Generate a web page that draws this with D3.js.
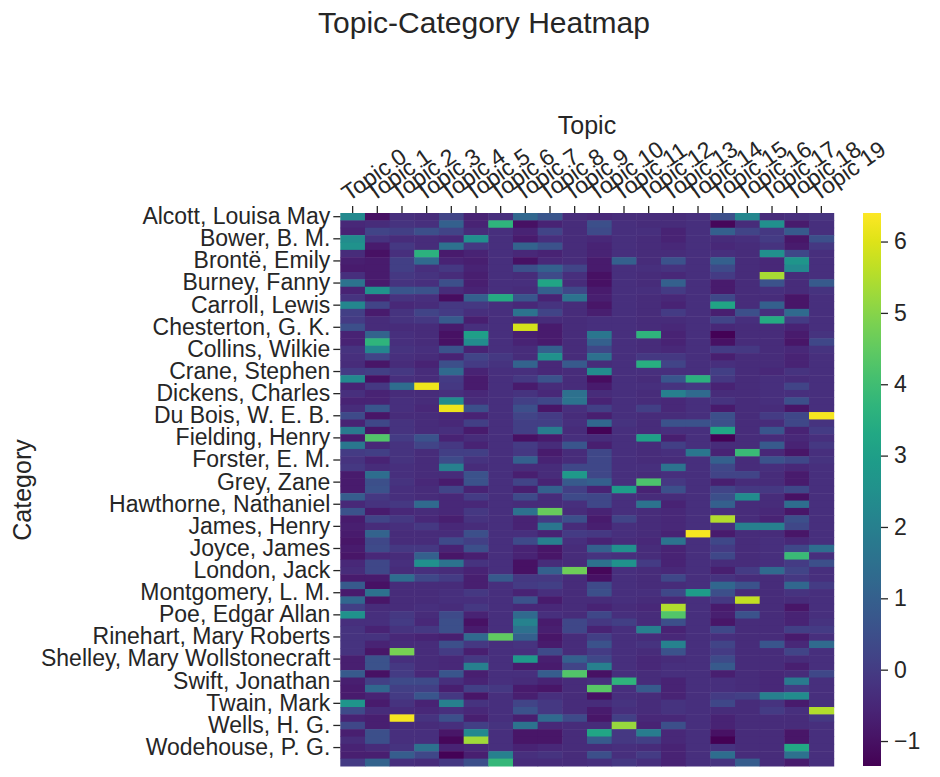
<!DOCTYPE html>
<html><head><meta charset="utf-8">
<script src="https://cdn.jsdelivr.net/npm/d3@7"></script>
<style>body{margin:0;background:#fff}text{font-family:"Liberation Sans",Arial,sans-serif;fill:#262626}</style>
</head><body><svg id="c" width="940" height="777"></svg>
<script>
const topics = d3.range(20).map(i => "Topic " + i);
const categories = [
"Alcott, Louisa May","Alger, Horatio","Austen, Jane",
"Bower, B. M.","Braddon, M. E.","Brontë, Charlotte",
"Brontë, Emily","Buchan, John","Burnett, Frances Hodgson",
"Burney, Fanny","Burroughs, Edgar Rice","Butler, Samuel",
"Carroll, Lewis","Cather, Willa","Chambers, Robert W.",
"Chesterton, G. K.","Childers, Erskine","Christie, Agatha",
"Collins, Wilkie","Conrad, Joseph","Cooper, James Fenimore",
"Crane, Stephen","Curwood, James Oliver","Defoe, Daniel",
"Dickens, Charles","Dostoyevsky, Fyodor","Doyle, Arthur Conan",
"Du Bois, W. E. B.","Eliot, George","Emerson, Ralph Waldo",
"Fielding, Henry","Fitzgerald, F. Scott","Ford, Ford Madox",
"Forster, E. M.","Gaskell, Elizabeth","Gissing, George",
"Grey, Zane","Haggard, H. Rider","Hardy, Thomas",
"Hawthorne, Nathaniel","Henty, G. A.","Irving, Washington",
"James, Henry","Jerome, Jerome K.","Jewett, Sarah Orne",
"Joyce, James","Kipling, Rudyard","Lawrence, D. H.",
"London, Jack","MacDonald, George","Melville, Herman",
"Montgomery, L. M.","Nesbit, E.","Orczy, Emmuska",
"Poe, Edgar Allan","Porter, Eleanor H.","Potter, Beatrix",
"Rinehart, Mary Roberts","Sabatini, Rafael","Scott, Walter",
"Shelley, Mary Wollstonecraft","Sinclair, Upton","Stevenson, Robert Louis",
"Swift, Jonathan","Tarkington, Booth","Trollope, Anthony",
"Twain, Mark","Verne, Jules","Wallace, Edgar",
"Wells, H. G.","Wharton, Edith","Wilde, Oscar",
"Wodehouse, P. G.","Woolf, Virginia","Yonge, Charlotte M."];
const values = [
[2.3,-1.0,-0.3,-0.4,0.2,-0.6,-0.3,1.2,0.7,-0.4, -0.5,-0.4,-0.4,-0.4,-0.3,0.5,2.2,-0.4,-0.3,-0.2],
[-0.5,-0.4,-0.2,-0.3,1.0,-0.6,3.7,-1.0,-0.6,-0.4, 0.5,-0.3,-0.4,-0.4,-0.3,-1.2,-0.4,2.5,-0.8,-0.3],
[-0.6,0.2,0.1,0.5,0.2,-0.4,-0.3,-0.6,0.2,-0.4, 0.4,-0.3,-0.3,-0.6,-0.3,1.0,0.2,-0.1,0.8,-0.3],
[2.4,-0.2,-0.4,-0.4,-0.5,2.5,-0.3,-0.8,-0.3,-0.4, -0.5,-0.3,-0.4,-0.6,-0.3,-0.4,-0.3,0.0,-0.9,0.5],
[2.6,-0.8,-0.1,-0.4,1.5,-0.1,-0.3,1.1,0.6,-0.4, -0.6,-0.3,-0.4,-0.5,-0.3,-0.5,-0.4,-0.2,-0.8,-0.1],
[-0.4,-1.0,-0.3,3.6,-0.8,-0.6,-0.3,-0.5,-0.6,-0.4, -0.6,-0.3,-0.4,-0.4,-0.3,-0.3,-0.4,2.5,0.3,-0.3],
[-0.7,-0.8,0.1,1.3,-0.6,-0.7,-0.3,-1.0,-0.5,-0.4, -0.8,1.0,-0.4,0.6,-0.3,1.0,-0.4,-0.5,2.7,-0.3],
[-0.8,-0.8,0.1,-0.3,-0.1,-0.6,-0.3,0.5,1.0,0.2, -0.8,-0.3,-0.3,-0.2,-0.3,0.4,-0.4,-0.5,2.3,-0.3],
[-0.3,-0.8,-0.1,-0.2,-0.4,-0.7,-0.3,-0.4,0.4,-0.3, -1.0,-0.3,-0.4,-0.5,-0.3,0.0,-0.4,5.4,-0.4,-0.3],
[1.6,-0.8,-0.2,-0.3,0.5,-0.7,-0.3,-0.3,3.2,-0.4, -1.0,-0.3,-0.4,1.0,-0.3,-0.8,-0.4,0.6,-0.4,0.8],
[-0.6,2.6,0.7,0.6,-0.4,-0.6,-0.3,-0.4,1.0,0.3, -0.8,-0.3,-0.3,0.0,-0.3,-0.8,-0.4,-0.3,-0.4,-0.2],
[-0.2,-0.7,-0.2,-0.3,-1.1,1.0,3.4,0.7,-0.6,1.6, -0.7,-0.3,-0.4,-0.5,-0.3,0.3,-0.4,-0.4,-0.9,-0.3],
[2.2,0.2,-0.5,-0.4,-0.1,-0.1,-0.3,-0.5,-0.2,-0.4, -0.9,-0.3,-0.4,-0.6,-0.3,3.2,-0.4,1.0,-0.9,-0.3],
[0.1,-0.8,-0.2,0.2,0.0,-0.3,-0.3,1.6,0.2,-0.4, -0.7,-0.3,-0.4,0.0,-0.3,-0.7,0.5,-0.3,1.3,-0.3],
[0.0,-0.4,-0.2,-0.1,0.8,-0.7,-0.3,-0.5,-0.4,-0.4, -0.3,-0.3,-0.4,-0.4,-0.3,0.2,-0.3,3.4,0.0,-0.3],
[0.5,-0.4,-0.4,-0.4,-0.8,-0.3,-0.3,5.9,-0.8,-0.4, -0.3,-0.3,-0.4,-0.5,-0.3,-0.5,-0.4,-0.4,-0.6,-0.3],
[-0.6,1.1,-0.3,-0.4,-1.0,3.0,-0.3,-0.7,-0.8,-0.4, 1.7,-0.3,3.7,-0.6,-0.3,-1.3,-0.4,-0.4,-0.8,-0.2],
[-0.6,3.7,-0.3,-0.4,-1.0,2.4,-0.3,-0.6,-0.8,-0.4, 1.0,-0.3,-0.4,-0.6,-0.3,-1.0,-0.4,-0.4,-0.9,0.3],
[-0.2,2.2,-0.2,-0.3,0.6,-0.6,-0.3,-0.4,1.0,-0.4, 0.3,-0.3,-0.4,-0.5,-0.3,0.0,-0.1,-0.4,-0.5,-0.2],
[-0.3,0.2,-0.3,-0.4,-0.6,0.2,-0.1,-0.4,2.6,-0.4, 1.5,-0.3,-0.1,-0.1,-0.3,-0.7,-0.4,-0.4,-0.6,-0.3],
[-0.4,-0.9,-0.4,-0.6,0.5,0.0,-0.2,1.1,-0.5,0.8, -0.4,-0.3,3.5,0.2,-0.3,-0.3,-0.4,-0.4,-0.6,-0.3],
[0.0,0.1,-0.1,-0.4,1.3,-0.6,-0.3,-0.3,-0.5,-0.4, 2.4,-0.3,-0.3,-0.3,-0.3,0.1,-0.4,-0.5,-0.2,-0.3],
[2.3,-1.0,-0.3,-0.4,0.0,-0.8,-0.3,-0.1,0.6,-0.4, -1.1,-0.3,-0.4,0.7,3.6,-0.1,-0.4,-0.3,-0.4,-0.3],
[-0.6,-0.1,1.4,6.2,-0.1,-0.8,-0.3,-0.8,-0.4,-0.4, -0.8,-0.3,-0.3,-0.2,-0.1,-0.6,-0.4,-0.3,0.2,-0.3],
[-0.3,-0.6,-0.4,-0.4,-0.3,-0.5,-0.3,-0.2,-0.5,1.5, -0.4,-0.3,-0.4,2.0,1.3,-0.4,-0.4,-0.3,-0.3,-0.3],
[-0.6,-0.6,-0.3,-0.4,2.4,-0.4,-0.3,0.1,0.3,1.6, -0.6,-0.3,-0.4,-0.5,-0.3,-0.2,-0.4,-0.3,0.5,-0.3],
[-0.4,0.7,-0.3,-0.5,6.2,0.5,-0.3,0.5,-0.9,-0.3, 0.1,-0.3,0.1,-0.5,-0.3,-0.8,-0.4,-0.4,-0.9,-0.3],
[0.4,-0.9,-0.4,-0.4,-0.5,-0.6,-0.3,0.2,0.0,-0.4, -0.7,-0.3,-0.4,-0.4,-0.3,0.5,-0.4,0.0,0.3,6.3],
[-0.6,0.3,-0.2,-0.4,-0.5,0.1,-0.3,0.1,0.1,-0.3, 1.2,-0.2,-0.4,0.6,0.6,0.5,-0.4,-0.4,0.3,-0.2],
[1.8,-0.9,-0.2,-0.4,-0.3,-0.8,-0.3,0.1,1.9,-0.4, -1.3,-0.3,-0.4,-0.3,-0.3,3.2,-0.4,0.7,-0.6,0.0],
[-0.8,4.3,0.0,0.6,-0.6,-0.4,-0.3,-1.0,-0.8,-0.3, -0.4,-0.3,3.1,-0.7,-0.3,-1.3,-0.4,-0.4,-0.5,-0.3],
[1.7,-0.5,-0.2,0.2,-0.1,-0.6,-0.3,0.0,-0.4,0.7, -0.7,-0.3,-0.4,0.1,-0.3,-0.4,-0.4,0.8,-0.6,-0.1],
[0.0,0.1,-0.2,-0.4,0.1,0.1,-0.3,-0.1,-0.8,-0.4, 0.3,-0.3,-0.4,-0.3,1.7,-0.6,3.9,-0.5,-0.9,-0.3],
[-0.2,-0.6,-0.2,-0.4,0.4,-0.2,-0.3,1.0,-0.6,-0.4, 0.3,-0.3,-0.4,-0.4,-0.3,1.0,-0.4,0.6,0.3,-0.2],
[-0.1,-0.4,-0.3,-0.4,2.0,-0.4,-0.3,-0.4,-0.4,0.3, 0.3,-0.3,-0.3,1.6,-0.3,0.3,-0.4,-0.3,-0.5,-0.3],
[-0.8,1.4,-0.3,-0.4,-0.4,0.6,-0.3,-0.7,-0.4,2.8, 0.3,-0.3,-0.4,-0.3,-0.3,0.2,0.2,-0.4,-0.8,-0.3],
[-0.8,0.5,-0.2,-0.5,-0.8,0.6,-0.3,0.2,-0.6,0.8, 1.0,-0.3,4.2,-0.1,-0.3,-0.7,-0.4,-0.4,-0.8,-0.3],
[-0.8,0.6,-0.3,-0.4,0.2,-0.6,-0.3,-0.7,1.0,0.1, -0.6,2.9,-0.6,0.5,-0.3,0.2,-0.1,-0.1,0.3,-0.3],
[0.9,-0.1,-0.3,-0.4,-0.5,0.0,-0.3,0.4,-0.4,0.4, 0.3,-0.3,-0.4,-0.4,-0.3,0.5,2.4,-0.4,-1.0,-0.3],
[-0.5,-0.2,-0.1,1.3,-0.5,-0.5,-0.3,-0.4,-0.4,-0.3, 0.3,-0.3,1.6,-0.6,-0.3,1.0,-0.4,-0.4,1.4,-0.3],
[0.6,-0.8,-0.5,-0.4,-0.5,-0.1,-0.3,1.5,4.6,-0.4, -0.6,-0.3,-0.4,-0.5,-0.3,-0.3,-0.4,-0.5,-0.9,-0.3],
[-0.8,0.2,-0.1,-0.5,-0.7,-0.2,-0.3,-0.6,0.0,0.5, -0.8,0.2,-0.4,-0.5,-0.3,5.5,-0.4,-0.6,0.5,-0.3],
[-0.7,-0.4,-0.3,-0.1,-0.5,-0.4,-0.3,-0.6,1.7,-0.4, -0.7,-0.3,-0.4,-0.5,-0.3,-0.3,2.0,2.0,0.3,-0.3],
[-0.8,1.1,-0.4,-0.4,-0.4,0.5,-0.3,-0.3,-0.6,0.0, -0.1,-0.3,-0.4,-0.6,6.3,-0.8,-0.4,-0.4,-0.9,-0.3],
[-0.9,0.3,-0.4,-0.4,0.4,0.1,-0.3,0.4,2.0,-0.3, -0.6,-0.4,-0.5,1.6,-0.3,0.3,-0.4,-0.3,-0.5,-0.3],
[-0.8,0.4,-0.1,-0.1,-0.6,0.5,-0.3,-0.6,-0.9,-0.4, 1.0,2.5,-0.4,-0.6,-0.3,0.0,-0.4,-0.3,0.3,1.4],
[-0.9,-0.5,-0.4,1.0,-0.9,-0.7,-0.3,-0.6,-0.9,-0.4, -0.2,-0.3,-0.4,-0.6,-0.3,0.3,-0.4,-0.3,3.9,-0.3],
[-0.5,0.3,-0.3,2.5,1.6,-0.2,-0.3,-1.0,-0.4,-0.4, 1.5,2.6,0.0,-0.6,-0.3,-0.4,-0.4,-0.3,0.0,0.5],
[-0.4,0.3,-0.4,-0.3,-0.4,-0.6,-0.3,-1.0,1.0,4.7, -1.2,-0.3,-0.4,-0.5,-0.3,-0.7,0.0,1.3,0.2,-0.3],
[-0.8,-0.8,1.4,0.3,0.0,-0.7,0.8,-0.1,-0.1,-0.4, -1.0,-0.3,-0.4,0.3,-0.3,-0.2,-0.4,-0.4,-0.1,-0.3],
[0.8,-1.0,-0.4,-0.4,-0.4,-0.7,-0.3,0.0,0.1,-0.4, 0.4,-0.3,-0.4,-0.4,-0.3,1.2,0.6,-0.4,1.2,0.0],
[-0.8,1.5,-0.4,-0.4,-0.3,-0.1,-0.3,-0.6,-0.3,-0.4, 0.5,-0.3,-0.3,0.3,2.9,0.5,-0.4,-0.4,-0.2,-0.3],
[1.2,-0.9,-0.4,-0.4,-0.3,-0.3,-0.3,0.6,-0.8,-0.4, -0.4,-0.3,-0.4,-0.5,-0.3,-0.1,5.7,-0.4,-0.4,-0.3],
[0.1,-0.4,-0.4,-0.3,-0.4,-0.1,-0.3,-0.5,-0.5,-0.4, -0.6,-0.4,-0.5,5.5,-0.3,-0.8,-0.4,-0.4,-0.9,-0.3],
[2.6,-0.3,-0.1,-0.4,0.4,-0.6,-0.3,1.3,-0.3,-0.4, 0.3,-0.3,-0.4,4.3,-0.3,-0.7,0.6,-0.4,-0.6,-0.3],
[-0.3,-0.3,0.0,-0.5,0.5,-1.0,-0.3,2.1,-0.8,0.3, -0.1,0.1,-0.4,0.5,-0.3,-0.9,-0.4,-0.4,-0.6,-0.2],
[-0.2,-0.6,-0.2,-0.1,0.5,-0.8,-0.3,1.5,-0.7,0.3, -0.6,-0.3,2.0,-0.6,-0.3,0.3,-0.4,-0.4,0.1,0.0],
[-0.2,-0.2,-0.5,-0.6,-0.7,1.3,4.5,1.0,-0.9,-0.4, 0.1,-0.3,-0.4,-0.5,-0.3,-0.3,-0.4,-0.4,-0.8,-0.3],
[-0.2,-0.6,-0.4,-0.4,0.5,-0.1,-0.3,-0.2,-0.8,-0.4, 0.6,-0.3,-0.2,2.1,-0.3,0.2,-0.4,0.7,-0.5,1.3],
[-0.2,-0.9,4.8,-0.4,0.0,-0.7,-0.3,-0.3,0.4,-0.4, 0.0,-0.3,-0.4,0.6,-0.3,0.0,-0.4,-0.4,0.2,-0.3],
[-0.7,0.6,-0.3,-0.4,-0.5,-0.1,-0.3,2.8,-0.7,1.0, 0.3,-0.3,-0.5,-0.4,-0.3,0.4,-0.4,-0.4,-0.4,-0.3],
[-0.7,0.6,-0.1,-0.4,-0.5,2.0,-0.3,-0.8,-0.8,0.2, 2.0,-0.3,-0.5,-0.3,-0.3,0.8,-0.4,-0.4,-0.7,-0.3],
[0.8,-1.0,0.0,-0.5,0.7,-0.7,-0.3,-0.3,0.9,4.3, -1.0,-0.3,-0.4,-0.3,-0.3,-0.7,-0.4,-0.5,-0.4,0.3],
[-0.7,0.1,0.4,0.4,-0.3,-0.6,-0.3,-0.4,-0.6,-0.4, -0.3,3.7,-0.4,-0.6,-0.3,-0.3,-0.4,-0.5,1.8,-0.3],
[-0.8,1.2,0.1,0.1,-0.7,0.1,-0.1,-0.8,-0.9,-0.4, 4.4,-0.3,0.8,-0.6,-0.3,-0.3,-0.4,-0.5,0.0,-0.3],
[-0.8,-0.6,0.0,0.7,-0.1,-0.9,-0.3,-0.7,-0.3,-0.4, -1.0,-0.3,-0.4,-0.6,-0.3,0.0,0.1,2.0,2.4,-0.3],
[2.7,-0.8,-0.2,-0.6,2.0,-0.2,-0.3,0.2,-0.1,-0.4, -0.4,-0.2,-0.4,-0.2,-0.3,0.3,-0.4,-0.2,-0.8,-0.3],
[0.4,-0.4,-0.4,-0.5,-0.3,-0.5,-0.3,0.6,-0.1,-0.4, -0.8,-0.3,-0.4,-0.2,-0.3,-0.4,-0.4,0.0,-0.3,5.5],
[-0.6,-0.7,6.3,-0.2,0.5,-0.7,-0.3,-0.7,1.3,0.4, -0.9,0.1,-0.5,-0.5,-0.3,-0.6,-0.4,-0.4,-0.4,-0.1],
[0.3,-0.7,-0.4,-0.4,-0.3,0.1,-0.2,1.6,-0.5,-0.4, -0.4,5.2,-0.6,0.5,-0.3,-0.6,-0.4,-0.4,-0.4,-0.3],
[-0.7,0.5,-0.3,-0.3,-0.9,2.3,-0.3,-0.9,-0.9,-0.4, 3.2,-0.1,1.9,-0.5,-0.3,-1.0,-0.4,-0.4,-0.9,-0.3],
[-0.4,0.5,-0.3,-0.3,-1.2,5.3,-0.3,-0.9,-0.9,-0.4, 0.8,-0.1,0.1,-0.5,-0.3,-1.35,-0.4,-0.4,-0.9,-0.3],
[-0.6,-0.4,-0.2,1.5,-0.6,-0.5,-0.3,-0.6,-0.5,-0.4, -0.4,-0.3,-0.4,-0.6,-0.3,-0.2,-0.4,-0.4,3.3,-0.3],
[-0.7,-0.7,0.9,0.3,-1.3,-0.7,2.0,-0.3,-0.2,-0.4, 0.5,-0.3,0.0,-0.6,-0.3,1.4,-0.4,-0.4,1.5,-0.3],
[0.0,1.1,-0.3,-0.4,-0.1,0.5,3.8,-0.4,-0.4,-0.4, -0.3,-0.1,-0.3,-0.6,-0.3,-0.2,0.9,-0.4,-0.8,-0.3]];
const colorTicks = [-1,0,1,2,3,4,5,6];
const vmin = -1.35, vmax = 6.4;

const svg = d3.select("#c");
const L = 340.3, R = 833.7, T = 213, B = 766;
const x = d3.scaleBand().domain(topics).range([L, R]);
const y = d3.scaleBand().domain(categories).range([T, B]);
const color = d3.scaleSequential(d3.interpolateViridis).domain([vmin, vmax]);

const cells = [];
values.forEach((row, i) => row.forEach((v, j) => cells.push({cat: categories[i], topic: topics[j], v})));
svg.append("g").selectAll("rect").data(cells).join("rect")
  .attr("x", d => x(d.topic)).attr("y", d => y(d.cat))
  .attr("width", x.bandwidth() + 0.5).attr("height", y.bandwidth() + 0.5)
  .attr("fill", d => color(d.v));

const font = "23px";
const xa = svg.append("g").attr("transform", `translate(0,${T})`)
  .call(d3.axisTop(x).tickSize(7).tickPadding(4));
xa.select(".domain").remove();
xa.selectAll("line").attr("stroke", "#262626").attr("stroke-width", 1.3);
xa.selectAll("text").style("font-size", font).attr("text-anchor", "start")
  .attr("x", 0).attr("y", 0).attr("dy", 0)
  .attr("transform", "translate(-4,-11) rotate(-35)").style("fill", "#262626");

const ya = svg.append("g").attr("transform", `translate(${L},0)`)
  .call(d3.axisLeft(y).tickSize(7).tickPadding(3)
    .tickValues(categories.filter((d, i) => i % 3 === 0)));
ya.select(".domain").remove();
ya.selectAll("line").attr("stroke", "#262626").attr("stroke-width", 1.3);
ya.selectAll("text").style("font-size", font).style("fill", "#262626").attr("font-family", null);

svg.append("text").attr("x", 587).attr("y", 134).attr("text-anchor", "middle").style("font-size", "25px").text("Topic");
svg.append("text").attr("transform", "translate(31,490) rotate(-90)").attr("text-anchor", "middle").style("font-size", "25px").text("Category");
svg.append("text").attr("x", 484).attr("y", 33).attr("text-anchor", "middle").style("font-size", "30px").text("Topic-Category Heatmap");

// colorbar
const cbX = 863, cbW = 18;
const cy = d3.scaleLinear().domain([vmin, vmax]).range([B, T]);
const defs = svg.append("defs");
const grad = defs.append("linearGradient").attr("id", "g").attr("x1", 0).attr("x2", 0).attr("y1", 1).attr("y2", 0);
d3.range(0, 1.0001, 0.05).forEach(t => grad.append("stop").attr("offset", t).attr("stop-color", d3.interpolateViridis(t)));
svg.append("rect").attr("x", cbX).attr("y", T).attr("width", cbW).attr("height", B - T).attr("fill", "url(#g)");
const ca = svg.append("g").attr("transform", `translate(${cbX + cbW},0)`)
  .call(d3.axisRight(cy).tickValues(colorTicks).tickSize(7).tickPadding(6).tickFormat(d => d < 0 ? "\u2212" + Math.abs(d) : d));
ca.select(".domain").remove();
ca.selectAll("line").attr("stroke", "#262626").attr("stroke-width", 1.3);
ca.selectAll("text").style("font-size", font).style("fill", "#262626").attr("font-family", null);
</script></body></html>
